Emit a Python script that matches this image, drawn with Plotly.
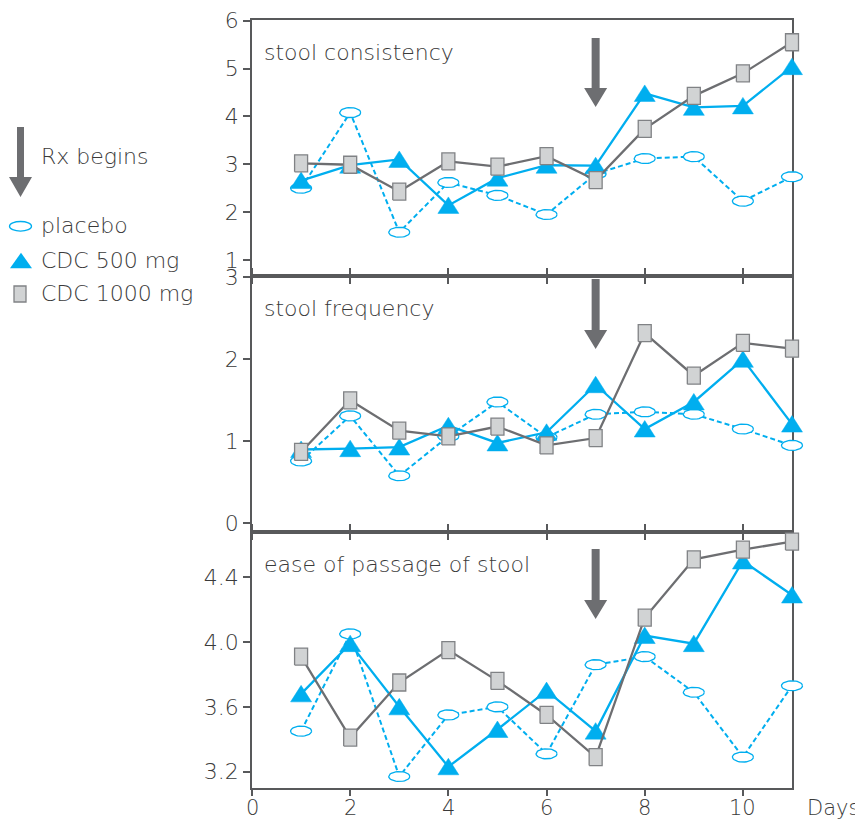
import numpy as np
import plotly.graph_objects as go

# ---------------- data ----------------
days = list(range(1, 12))
rx_day = 7

panel_titles = ["stool consistency", "stool frequency", "ease of passage of stool"]

placebo_consistency = [2.50, 4.08, 1.58, 2.62, 2.35, 1.95, 2.80, 3.12, 3.16, 2.23, 2.74]
cdc500_consistency = [2.66, 2.98, 3.10, 2.14, 2.71, 2.98, 2.97, 4.48, 4.19, 4.22, 5.04]
cdc1000_consistency = [3.02, 2.99, 2.43, 3.06, 2.95, 3.17, 2.67, 3.74, 4.43, 4.90, 5.55]

placebo_frequency = [0.76, 1.31, 0.58, 1.06, 1.48, 1.05, 1.33, 1.36, 1.33, 1.15, 0.95]
cdc500_frequency = [0.90, 0.91, 0.93, 1.19, 0.98, 1.11, 1.69, 1.15, 1.48, 2.00, 1.21]
cdc1000_frequency = [0.87, 1.50, 1.13, 1.06, 1.18, 0.95, 1.04, 2.32, 1.80, 2.20, 2.13]

placebo_ease = [3.45, 4.05, 3.17, 3.55, 3.60, 3.31, 3.86, 3.91, 3.69, 3.29, 3.73]
cdc500_ease = [3.68, 3.99, 3.60, 3.23, 3.46, 3.70, 3.45, 4.04, 3.99, 4.50, 4.29]
cdc1000_ease = [3.91, 3.41, 3.75, 3.95, 3.76, 3.55, 3.29, 4.15, 4.51, 4.57, 4.62]

legend_labels = ["Rx begins", "placebo", "CDC 500 mg", "CDC 1000 mg"]
x_tick_vals = [0, 2, 4, 6, 8, 10]
x_tick_text = ["0", "2", "4", "6", "8", "10"]
y_tick_vals = [[1, 2, 3, 4, 5, 6], [0, 1, 2, 3], [3.2, 3.6, 4.0, 4.4]]
y_tick_text = [["1", "2", "3", "4", "5", "6"], ["0", "1", "2", "3"], ["3.2", "3.6", "4.0", "4.4"]]
x_label = "Days"

# ---------------- style / layout ----------------
OFF = 8  # page body margin
W, H = 855, 812
ML, MR, MT, MB = 244, 30, 12, 32
PW = W - ML - MR
PH = H - MT - MB
FRAME_W = 540
panel_h = PH / 3.0
x_range = [0, 11]
x_range_wide = [0, 11 * PW / FRAME_W]
y_ranges = [[0.665, 6.015], [-0.106, 3.016], [3.099, 4.679]]
domains = [[2 / 3, 1], [1 / 3, 2 / 3], [0, 1 / 3]]

BLUE = "#00aeef"
GRAY_LINE = "#6d6e71"
SQ_FILL = "#d1d3d4"
SQ_EDGE = "#808285"
AXIS = "#58595b"
TEXT = "#3a3a3a"
FONT = "DejaVu Sans"
WEIGHT = 200


def tfont(size):
    return dict(size=size, color=TEXT, weight=WEIGHT, family=FONT)


series = [
    (placebo_consistency, cdc500_consistency, cdc1000_consistency),
    (placebo_frequency, cdc500_frequency, cdc1000_frequency),
    (placebo_ease, cdc500_ease, cdc1000_ease),
]


def marker_polys(xs, ys, yr, kind):
    sx = FRAME_W / (x_range[1] - x_range[0])
    sy = panel_h / (yr[1] - yr[0])
    px, py = [], []
    for x, y in zip(xs, ys):
        if kind == "ellipse":
            t = np.linspace(0, 2 * np.pi, 37)
            dx, dy = 10.5 * np.cos(t), 5.0 * np.sin(t)
        elif kind == "tri":
            dx, dy = np.array([-10.5, 10.5, 0, -10.5]), np.array([-8, -8, 8.5, -8])
        else:
            dx, dy = np.array([-6.5, 6.5, 6.5, -6.5, -6.5]), np.array([-8.5, -8.5, 8.5, 8.5, -8.5])
        px += list(x + dx / sx) + [None]
        py += list(y + dy / sy) + [None]
    return px, py


fig = go.Figure()

for i, (pl, c5, c10) in enumerate(series):
    k = i + 4
    xa, ya = f"x{k}", f"y{k}"
    yr = y_ranges[i]
    fig.add_trace(go.Scatter(x=days, y=pl, mode="lines", xaxis=xa, yaxis=ya,
                             line=dict(color=BLUE, width=2, dash="5px,3px"), showlegend=False,
                             hoverinfo="skip"))
    ex, ey = marker_polys(days, pl, yr, "ellipse")
    fig.add_trace(go.Scatter(x=ex, y=ey, mode="lines", fill="toself", fillcolor="white",
                             line=dict(color=BLUE, width=1.3), xaxis=xa, yaxis=ya,
                             showlegend=False, hoverinfo="skip"))
    fig.add_trace(go.Scatter(x=days, y=c5, mode="lines", xaxis=xa, yaxis=ya,
                             line=dict(color=BLUE, width=2.3), showlegend=False, hoverinfo="skip"))
    tx, ty = marker_polys(days, c5, yr, "tri")
    fig.add_trace(go.Scatter(x=tx, y=ty, mode="lines", fill="toself", fillcolor=BLUE,
                             line=dict(color=BLUE, width=0.5), xaxis=xa, yaxis=ya,
                             showlegend=False, hoverinfo="skip"))
    fig.add_trace(go.Scatter(x=days, y=c10, mode="lines", xaxis=xa, yaxis=ya,
                             line=dict(color=GRAY_LINE, width=2.3), showlegend=False,
                             hoverinfo="skip"))
    rx_, ry_ = marker_polys(days, c10, yr, "rect")
    fig.add_trace(go.Scatter(x=rx_, y=ry_, mode="lines", fill="toself", fillcolor=SQ_FILL,
                             line=dict(color=SQ_EDGE, width=1.3), xaxis=xa, yaxis=ya,
                             showlegend=False, hoverinfo="skip"))

layout = dict(
    width=W, height=H,
    margin=dict(l=ML, r=MR, t=MT, b=MB, autoexpand=False),
    paper_bgcolor="white", plot_bgcolor="rgba(0,0,0,0)",
    font=tfont(22),
    showlegend=False,
)

frac = FRAME_W / PW
for i in range(3):
    n = "" if i == 0 else str(i + 1)
    layout[f"xaxis{n}"] = dict(
        domain=[0, frac], range=x_range, anchor=f"y{n}", automargin=False,
        tickvals=x_tick_vals, showticklabels=False,
        ticks="outside", ticklen=6, tickwidth=1.5, tickcolor=AXIS,
        showline=True, linecolor=AXIS, linewidth=1.5,
        mirror=True if i == 0 else "ticks",
        showgrid=False, zeroline=False,
    )
    layout[f"yaxis{n}"] = dict(
        domain=domains[i], range=y_ranges[i], anchor=f"x{n}", automargin=False,
        tickvals=y_tick_vals[i], ticktext=y_tick_text[i],
        ticks="outside", ticklen=7, tickwidth=1.5, tickcolor=AXIS,
        showline=True, linecolor=AXIS, linewidth=1.5, mirror=True,
        showgrid=False, zeroline=False,
        tickfont=tfont(22),
    )
    k = i + 4
    layout[f"xaxis{k}"] = dict(domain=[0, 1], range=x_range_wide, anchor=f"y{k}",
                               visible=False, showgrid=False, zeroline=False, automargin=False)
    layout[f"yaxis{k}"] = dict(domain=domains[i], range=y_ranges[i], anchor=f"x{k}",
                               visible=False, showgrid=False, zeroline=False, automargin=False)

fig.update_layout(**layout)

shapes = []
annotations = []

arrow_offsets = [(18, 68, 87), (3, 54, 73), (17, 68, 87)]
for i, (t0, hb, ap) in enumerate(arrow_offsets):
    n = "" if i == 0 else str(i + 1)
    path = (f"M -4,{-t0} L 4,{-t0} L 4,{-hb} L 11.5,{-hb} L 0,{-ap} "
            f"L -11.5,{-hb} L -4,{-hb} Z")
    shapes.append(dict(type="path", xref=f"x{n}", yref=f"y{n} domain",
                       xsizemode="pixel", ysizemode="pixel", xanchor=rx_day, yanchor=1,
                       path=path, fillcolor=GRAY_LINE, line=dict(width=0), layer="above"))
    annotations.append(dict(text=panel_titles[i], xref=f"x{n} domain", yref=f"y{n} domain",
                            x=10 / FRAME_W, y=1, xanchor="left", yanchor="top", yshift=-18,
                            showarrow=False, font=tfont(22)))


def pxx(px):
    return (px - OFF - ML) / PW


def pxy(py):
    return (MT + PH - (py - OFF)) / PH


# x tick labels of the bottom panel
for v, s in zip(x_tick_vals, x_tick_text):
    annotations.append(dict(text=s, xref="x3", yref="paper", x=v, y=pxy(807.5),
                            xanchor="center", yanchor="middle", showarrow=False, font=tfont(21)))

shapes.append(dict(type="path", xref="paper", yref="paper", xsizemode="pixel", ysizemode="pixel",
                   xanchor=pxx(20.5), yanchor=pxy(127),
                   path="M -3.5,0 L 3.5,0 L 3.5,-50 L 11.5,-50 L 0,-70 L -11.5,-50 L -3.5,-50 Z",
                   fillcolor=GRAY_LINE, line=dict(width=0)))
shapes.append(dict(type="circle", xref="paper", yref="paper", xsizemode="pixel", ysizemode="pixel",
                   xanchor=pxx(20.5), yanchor=pxy(226.3), x0=-11, x1=11, y0=-4.8, y1=4.8,
                   fillcolor="white", line=dict(color=BLUE, width=1.3)))
shapes.append(dict(type="path", xref="paper", yref="paper", xsizemode="pixel", ysizemode="pixel",
                   xanchor=pxx(21), yanchor=pxy(260.5),
                   path="M -11,-7.8 L 11,-7.8 L 0,7.8 Z", fillcolor=BLUE, line=dict(width=0)))
shapes.append(dict(type="rect", xref="paper", yref="paper", xsizemode="pixel", ysizemode="pixel",
                   xanchor=pxx(20), yanchor=pxy(294), x0=-6, x1=6, y0=-8, y1=8,
                   fillcolor=SQ_FILL, line=dict(color=SQ_EDGE, width=1.3)))

for lab, ypx in zip(legend_labels, [157, 226, 260, 293]):
    annotations.append(dict(text=lab, xref="paper", yref="paper", x=pxx(39), y=pxy(ypx),
                            xanchor="left", yanchor="middle", showarrow=False, font=tfont(22)))

annotations.append(dict(text=x_label, xref="paper", yref="paper", x=pxx(805), y=pxy(807.5),
                        xanchor="left", yanchor="middle", showarrow=False, font=tfont(21)))

fig.update_layout(shapes=shapes, annotations=annotations)
fig.write_html("out.html")
